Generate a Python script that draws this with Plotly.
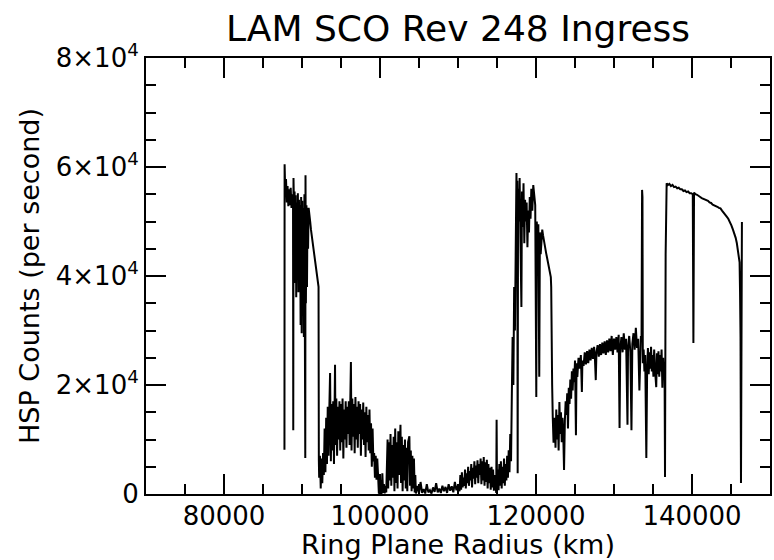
import plotly.graph_objects as go

# ---- data (ring plane radius in km, HSP counts per second) ----
c_ring_radius = [87750, 87770, 87850, 87950, 88050, 88150, 88250, 88350, 88450, 88550, 88650, 88750,
                 88850, 88880, 88910, 88980, 89050, 89120, 89190, 89260, 89330, 89400, 89470, 89540,
                 89610, 89680, 89750, 89820, 89890, 89960, 90030, 90100, 90170, 90240, 90310, 90380,
                 90420, 90450, 90500, 90570, 90640, 90710, 90780, 90850, 90950, 91050, 91150, 91300,
                 91450, 91600, 91750, 91900, 92050, 92120, 92160]
c_ring_counts = [8100, 60500, 55500, 57800, 53500, 56500, 52800, 55900, 53000, 56200, 52500, 55000,
                 53800, 11700, 58000, 52000, 55500, 38700, 54800, 36100, 53500, 40000, 55200, 37000,
                 54000, 42000, 53000, 31000, 54500, 29500, 53800, 33000, 52500, 28800, 55000, 30500,
                 6600, 58500, 35000, 53000, 38000, 52500, 45000, 52500, 51500, 50000, 48500, 47000,
                 45500, 43500, 42000, 40500, 39500, 38000, 6200]

b_inner_radius = [92200, 92300, 92400, 92500, 92600, 92700, 92800, 92900, 93000, 93100, 93200, 93300,
                  93400, 93500, 93600, 93700, 93800, 93900, 94000, 94100, 94235, 94300, 94400, 94500,
                  94600, 94700, 94800, 94900, 95000, 95100, 95200, 95300, 95400, 95500, 95600, 95700,
                  95800, 95900, 96000, 96100, 96270, 96350, 96450, 96550, 96650, 96750, 96850, 96950,
                  97050, 97150, 97250, 97350, 97450, 97550, 97650, 97750, 97850, 97950, 98050, 98150,
                  98250, 98350, 98450, 98550, 98650, 98750, 98850, 98950, 99050, 99150, 99250, 99350,
                  99450, 99550, 99650, 99750, 99850]
b_inner_counts = [3000, 7000, 1000, 6500, 2000, 7500, 3500, 12000, 4000, 14000, 5500, 16000,
                  7000, 15500, 22200, 6000, 16500, 8000, 17000, 5500, 23700, 9000, 17500, 7000,
                  16000, 10000, 17000, 8000, 16500, 9500, 17500, 6500, 15500, 10000, 17000, 8500,
                  16000, 11000, 17000, 9000, 24200, 8000, 17500, 10500, 16500, 7500, 17800, 10000,
                  16000, 8500, 17000, 11000, 16500, 7000, 15500, 10000, 16800, 9000, 15000, 6800,
                  16000, 9500, 14500, 8000, 15500, 7500, 13000, 5000, 12000, 6000, 7500, 3000,
                  7000, 2600, 6500, 3500, 200]

b_core_radius = [100000, 100100, 100200, 100300, 100400, 100500, 100600, 100700, 100800, 100972,
                 101050, 101150, 101250, 101350, 101450, 101550, 101650, 101750, 101850, 101950,
                 102050, 102150, 102250, 102350, 102450, 102624, 102700, 102800, 102900, 103000,
                 103100, 103200, 103300, 103400, 103500, 103600, 103768, 103850, 103950, 104050,
                 104150, 104250, 104350, 104450, 104530, 104600, 104800, 105000, 105200, 105400,
                 105600, 105800, 106000, 106200, 106400, 106600, 106800, 107000, 107200, 107400,
                 107600, 107800, 108000, 108200, 108400, 108600, 108800, 109000, 109200, 109400,
                 109600, 109800, 110000, 110200]
b_core_counts = [100, 2500, 0, 3800, 200, 1800, 100, 1500, 300, 10000,
                 1000, 9500, 2500, 11000, 1500, 9000, 3000, 10500, 500, 12000,
                 2000, 9500, 1000, 11500, 3500, 12700, 2000, 10500, 500, 9000,
                 2500, 10000, 1000, 8500, 500, 9500, 10600, 1500, 8000, 500,
                 7000, 1000, 6500, 300, 3500, 100, 1500, 100, 2200, 200,
                 900, 100, 1800, 300, 700, 100, 1200, 400, 2000, 300,
                 1000, 200, 1500, 500, 1300, 200, 1800, 600, 1400, 300,
                 2200, 700, 1600, 500]

b_outer_radius = [110300, 110400, 110500, 110600, 110700, 110800, 110900, 111000, 111100, 111200,
                  111300, 111400, 111500, 111600, 111700, 111800, 111900, 112000, 112100, 112200,
                  112300, 112400, 112500, 112600, 112700, 112800, 112900, 113000, 113100, 113200,
                  113300, 113400, 113500, 113600, 113700, 113800, 113900, 114000, 114100, 114200,
                  114300, 114400, 114500, 114600, 114700, 114800, 114900, 114950, 115000, 115100,
                  115200, 115300, 115400, 115500, 115600, 115700, 115800, 115900, 116000, 116100,
                  116200, 116300, 116400, 116500, 116600, 116700, 116800, 116900, 117000, 117100,
                  117200, 117300, 117400]
b_outer_counts = [3500, 800, 4000, 1200, 3000, 1500, 4500, 1000, 3800, 2000,
                  5000, 1500, 4200, 2500, 5500, 1200, 4800, 2800, 6000, 1800,
                  5200, 3000, 6200, 2000, 5500, 3500, 6500, 1800, 6000, 2500,
                  6800, 1500, 5800, 2200, 6300, 1000, 5500, 2000, 4800, 800,
                  5000, 1200, 4500, 600, 3500, 1000, 200, 13600, 1500, 4500,
                  700, 5500, 1500, 6000, 1000, 5000, 2000, 6500, 1500, 5500,
                  2500, 7000, 3000, 8000, 4000, 11000, 6000, 18000, 28800, 20000,
                  38000, 30000, 50000]

cassini_radius = [117495, 117550, 117600, 117650, 117700, 117800, 117900, 118000, 118130, 118200,
                  118300, 118400, 118500, 118600, 118700, 118800, 118900, 119000, 119100, 119200,
                  119300, 119400, 119528, 119650, 119782, 119900, 120037, 120100, 120200, 120300,
                  120418, 120500, 120600, 120700, 120800, 120900, 121000, 121100, 121200, 121300,
                  121400, 121500, 121600, 121700, 121800, 121900, 121950, 122000, 122070, 122150,
                  122250]
cassini_counts = [58900, 52000, 57500, 3800, 56000, 50000, 58000, 47000, 34300, 55500,
                  49000, 57000, 46000, 54000, 50000, 53500, 45300, 52000, 48000, 54500,
                  50500, 56000, 52000, 56700, 55000, 53000, 17800, 50000, 46000, 49500,
                  21500, 48000, 44000, 47500, 48500, 47500, 46500, 45800, 45000, 44200,
                  43500, 42800, 42000, 41200, 40500, 39800, 38000, 24600, 20000, 14000,
                  9400]

a_inner_radius = [122300, 122400, 122500, 122600, 122700, 122800, 122900, 123000, 123100, 123200,
                  123300, 123400, 123500, 123595, 123700, 123800, 123900, 124000, 124100, 124200,
                  124300, 124400, 124500, 124600, 124700, 124800, 124900, 125000, 125121, 125200,
                  125300]
a_inner_counts = [12000, 14000, 8500, 15500, 10000, 14500, 8000, 16900, 11000, 15000,
                  9500, 14000, 10500, 4400, 13500, 17000, 14500, 18500, 12000, 19500,
                  16500, 21000, 17500, 22500, 19000, 23000, 20500, 24500, 10800, 24000,
                  21500]

a_mid_radius = [125450, 125600, 125750, 125883, 125950, 126100, 126250, 126400, 126550, 126700,
                126850, 127000, 127150, 127300, 127450, 127550, 127663, 127750, 127900, 128050,
                128200, 128350, 128500, 128650, 128800, 128950, 129100, 129250, 129400, 129550,
                129700, 129850, 130000, 130150, 130300, 130450, 130600, 130713, 130800, 130950,
                131100, 131250, 131400, 131550, 131730, 131800, 131950, 132100, 132238, 132350,
                132500, 132650, 132800, 132950, 133100, 133255, 133350, 133450, 133530, 133560,
                133600, 133650, 133690]
a_mid_counts = [25000, 23000, 25500, 18700, 24500, 23500, 26000, 23800, 26200, 24000,
                26500, 24500, 26800, 24800, 27000, 25000, 20900, 26000, 27300, 25200,
                27500, 25500, 27800, 25800, 28000, 25500, 28200, 26000, 28500, 26200,
                29000, 25500, 28500, 26500, 28800, 26000, 29200, 12100, 26500, 28800,
                26000, 29500, 26500, 28500, 12700, 27000, 29000, 26000, 11700, 27500,
                29500, 26500, 30500, 26800, 28500, 19000, 27000, 29000, 28000, 54000,
                55800, 54500, 27000]

a_outer_radius = [133700, 133800, 133900, 134000, 134145, 134250, 134350, 134450, 134550, 134650,
                  134750, 134850, 134950, 135050, 135150, 135250, 135416, 135500, 135600, 135700,
                  135800, 135900, 136000, 136100, 136200, 136300, 136400, 136480, 136540, 136620,
                  136700]
a_outer_counts = [24000, 26500, 22500, 25500, 6600, 23000, 26800, 22000, 26000, 23000,
                  27000, 22500, 25500, 21500, 26500, 23000, 19600, 25800, 22000, 26200,
                  21500, 25500, 22500, 26500, 19500, 25000, 21000, 24000, 3100, 44000,
                  57000]

outer_radius = [136750, 136900, 137100, 137300, 137500, 137700, 137900, 138100, 138300, 138500,
                138700, 138900, 139100, 139300, 139500, 139700, 139900, 140100, 140180, 140260,
                140450, 140650, 140850, 141050, 141250, 141450, 141650, 141850, 142050, 142250,
                142450, 142650, 142850, 143050, 143250, 143450, 143650, 143850, 144050, 144250,
                144450, 144650, 144850, 145050, 145250, 145450, 145600, 145750, 145900, 146000,
                146100, 146160, 146220, 146280, 146400]
outer_counts = [57000, 56700, 56900, 56500, 56700, 56300, 56400, 56100, 56200, 55900,
                55900, 55600, 55700, 55400, 55500, 55200, 55200, 55000, 27700, 55300,
                55000, 54900, 54600, 54500, 54300, 54200, 54000, 53900, 53800, 53500,
                53400, 53100, 53000, 52800, 52700, 52500, 52400, 52000, 51700, 51300,
                50900, 50500, 50000, 49300, 48500, 47700, 47000, 46000, 44800, 43800,
                42500, 37000, 28800, 2000, 49900]

x_tick_values = [80000, 100000, 120000, 140000]
x_tick_labels = ["80000", "100000", "120000", "140000"]
y_tick_values = [0, 20000, 40000, 60000, 80000]
y_tick_labels = ["0", "2×10<sup>4</sup>", "4×10<sup>4</sup>", "6×10<sup>4</sup>", "8×10<sup>4</sup>"]

segments = [
    (c_ring_radius, c_ring_counts), (b_inner_radius, b_inner_counts),
    (b_core_radius, b_core_counts), (b_outer_radius, b_outer_counts),
    (cassini_radius, cassini_counts), (a_inner_radius, a_inner_counts),
    (a_mid_radius, a_mid_counts), (a_outer_radius, a_outer_counts),
    (outer_radius, outer_counts),
]
radius, counts = [], []
for r, c in segments:
    assert len(r) == len(c), (len(r), len(c), r[0])
    radius += r
    counts += c

FONT = "DejaVu Sans"

fig = go.Figure(go.Scatter(x=radius, y=counts, mode="lines",
                           line=dict(color="black", width=2), hoverinfo="skip"))

fig.update_layout(
    width=774, height=560,
    margin=dict(l=146, r=4, t=58, b=66, autoexpand=False),
    paper_bgcolor="white", plot_bgcolor="white", showlegend=False,
    font=dict(family=FONT, color="black"),
    title=dict(text="LAM SCO Rev 248 Ingress", x=0.5, xref="paper", xanchor="center",
               y=1 - 28 / 560, yref="container", yanchor="middle",
               font=dict(family=FONT, size=36, color="black")),
)

tick_style = dict(ticks="inside", ticklen=20, tickwidth=2, tickcolor="black",
                  showline=True, linecolor="black", linewidth=2, mirror="ticks",
                  showgrid=False, zeroline=False, automargin=False)
minor_style = dict(ticks="inside", ticklen=10, tickwidth=2, tickcolor="black",
                   dtick=5000, tick0=0, showgrid=False)

fig.update_layout(
    xaxis=dict(range=[70000, 150000], tickmode="array", tickvals=x_tick_values,
               ticktext=x_tick_labels, ticklabelstandoff=-2,
               tickfont=dict(family=FONT, size=26, color="black"), minor=minor_style,
               title=dict(text="Ring Plane Radius (km)",
                          font=dict(family=FONT, size=27, color="black"), standoff=2),
               **tick_style),
    yaxis=dict(range=[0, 80000], tickmode="array", tickvals=y_tick_values,
               ticktext=y_tick_labels,
               tickfont=dict(family=FONT, size=26, color="black"), minor=minor_style,
               title=dict(text="HSP Counts (per second)",
                          font=dict(family=FONT, size=27, color="black"), standoff=8),
               **tick_style),
)

fig.write_html("out.html", config={"displayModeBar": False},
               post_script="document.body.style.margin='0';document.body.style.overflow='hidden';")
